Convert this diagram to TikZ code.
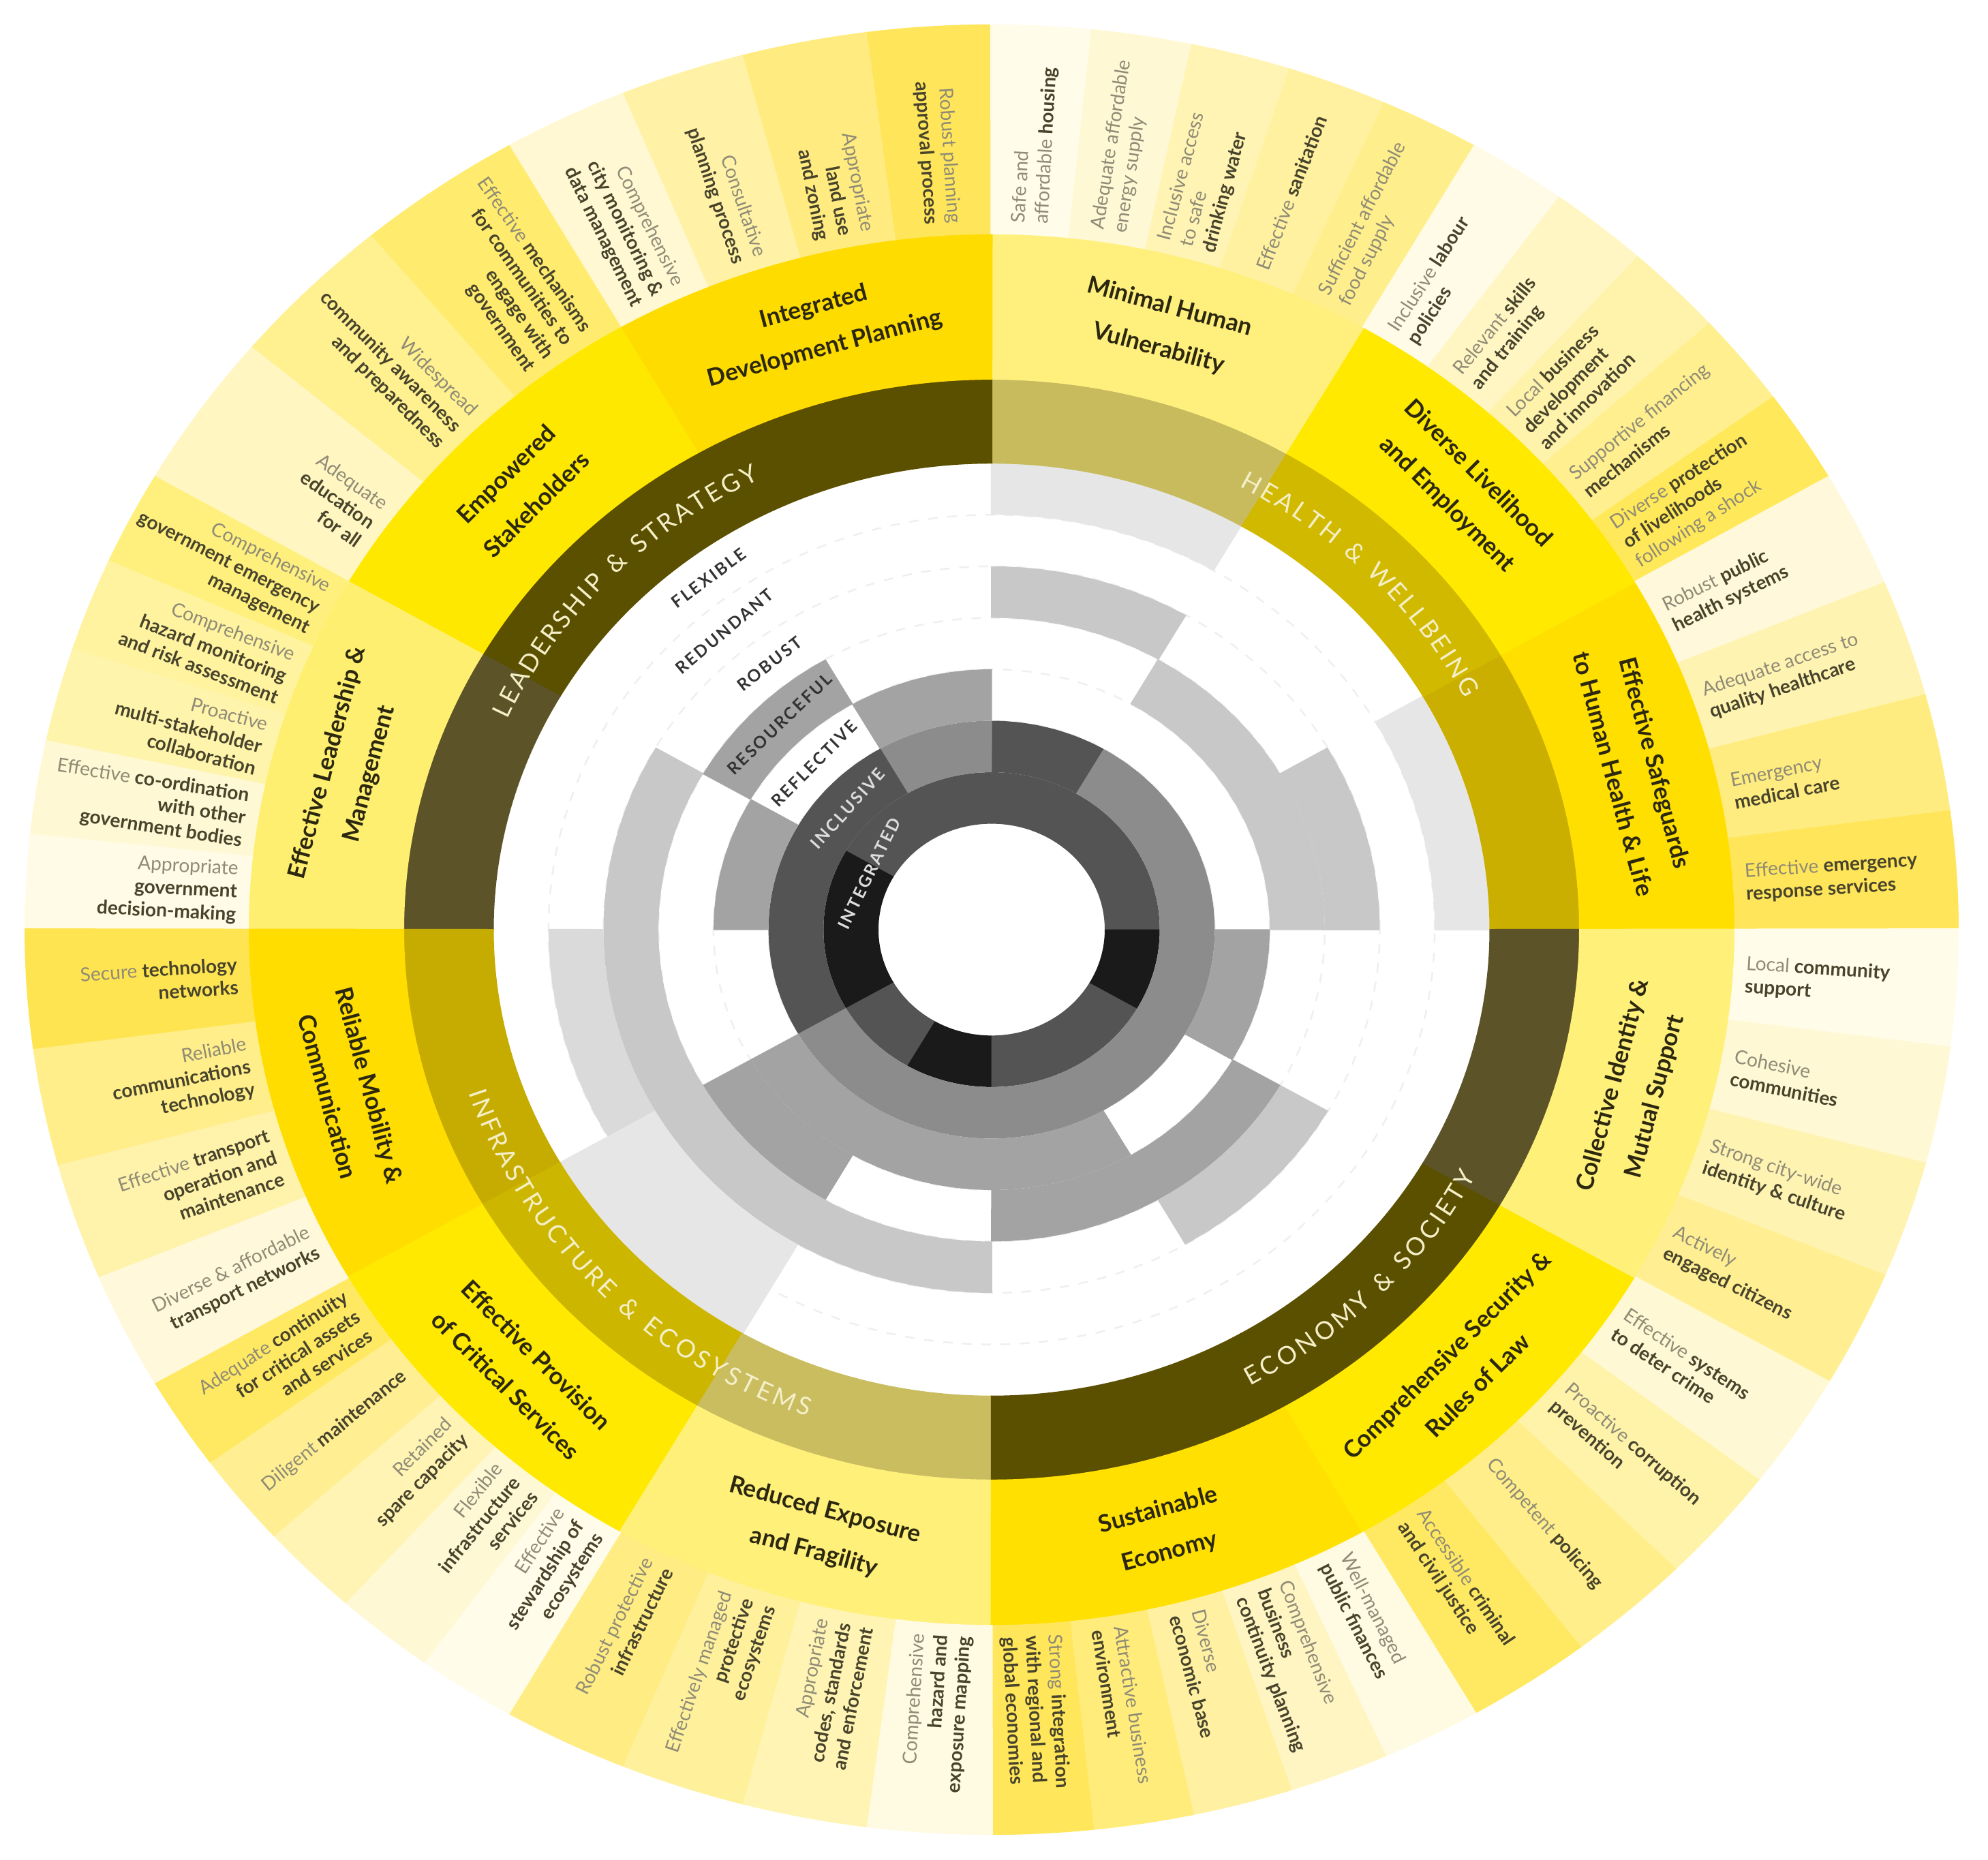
\documentclass[tikz,border=0pt]{standalone}
\usepackage{fontspec}
\setmainfont{Lato}
\usepackage{xcolor}
\definecolor{cK}{HTML}{1A1A1A}
\definecolor{cD}{HTML}{545454}
\definecolor{cM}{HTML}{8C8C8C}
\definecolor{cG}{HTML}{A3A3A3}
\definecolor{cL}{HTML}{C8C8C8}
\definecolor{cF}{HTML}{DADADA}
\definecolor{cE}{HTML}{E6E6E6}
\definecolor{band0}{HTML}{CAAF00}
\definecolor{band30}{HTML}{D1B900}
\definecolor{band60}{HTML}{C8BB5E}
\definecolor{band90}{HTML}{5B4F00}
\definecolor{band120}{HTML}{5B4F00}
\definecolor{band150}{HTML}{5C5428}
\definecolor{band180}{HTML}{C6AC00}
\definecolor{band210}{HTML}{CDB600}
\definecolor{band240}{HTML}{C9BD60}
\definecolor{band270}{HTML}{5B4F00}
\definecolor{band300}{HTML}{5B4F00}
\definecolor{band330}{HTML}{5C5428}
\definecolor{goal0}{HTML}{FFDF00}
\definecolor{goal30}{HTML}{FFE900}
\definecolor{goal60}{HTML}{FFF07E}
\definecolor{goal90}{HTML}{FFDC00}
\definecolor{goal120}{HTML}{FFE800}
\definecolor{goal150}{HTML}{FFEF70}
\definecolor{goal180}{HTML}{FFDD00}
\definecolor{goal210}{HTML}{FFE900}
\definecolor{goal240}{HTML}{FFF07A}
\definecolor{goal270}{HTML}{FFE000}
\definecolor{goal300}{HTML}{FFE900}
\definecolor{goal330}{HTML}{FFF07A}
\definecolor{txtdark}{HTML}{48442C}
\definecolor{txtgrey}{HTML}{8F8B76}
\definecolor{goaltext}{HTML}{2C2810}
\definecolor{dimtext}{HTML}{F4EFC8}
\definecolor{dashc}{HTML}{EFEFEF}
\definecolor{qlight}{HTML}{DCDCDC}
\definecolor{qdark}{HTML}{333333}

\newcommand\lt[1]{\textcolor{txtgrey}{#1}}
\newcommand\dk[1]{{\bfseries\color{txtdark}#1}}

\tikzset{
  indtxt/.style={font=\fontsize{8}{9.6}\selectfont, inner sep=0pt, text=txtdark},
  goaltxt/.style={font=\fontsize{10}{18}\selectfont\bfseries, align=center, text=goaltext, inner sep=0pt},
  dimtxt/.style={font=\fontsize{10.4}{12}\selectfont, text=dimtext, inner sep=0pt},
  qualtxt/.style={font=\fontsize{7}{8}\selectfont\bfseries\addfontfeatures{LetterSpace=12}, inner sep=0pt},
  dashring/.style={draw=dashc, line width=0.7pt, dash pattern=on 4pt off 4pt},
}

% inner ring row: ring index, 12 colour letters from 0 deg counter-clockwise
\newcommand\ringrow[2]{%
  \pgfmathsetmacro\rin{1.66+(#1-1)*0.807}%
  \pgfmathsetmacro\rout{\rin+0.807}%
  \foreach \c [count=\k from 0] in {#2} {%
    \if\c W\else
      \pgfmathsetmacro\aA{\k*30-0.1}\pgfmathsetmacro\aB{\k*30+30.1}%
      \fill[c\c] (\aA:\rin) arc[start angle=\aA,end angle=\aB,radius=\rin] -- (\aB:\rout) arc[start angle=\aB,end angle=\aA,radius=\rout] -- cycle;
    \fi}}

\newcommand\indfill[6]{%
  \definecolor{tmpc}{HTML}{#4}%
  \pgfmathsetmacro\aA{#2-0.08}\pgfmathsetmacro\aB{#3+0.08}%
  \fill[tmpc] (\aA:10.9) arc[start angle=\aA,end angle=\aB,radius=10.9] -- (\aB:14.19) arc[start angle=\aB,end angle=\aA,radius=14.19] -- cycle;}
\newcommand\indtext[6]{%
  \pgfmathsetmacro\amid{(#2+#3)/2}%
  \if#5L\pgfmathsetmacro\rot{\amid-180}\node[indtxt,anchor=east,align=right,rotate=\rot] (#1) at (\amid:11.08) {#6};%
  \else\pgfmathsetmacro\rot{\amid}\node[indtxt,anchor=west,align=left,rotate=\rot] (#1) at (\amid:11.08) {#6};\fi}

\newcommand\indlist{%
\ind{i1}{90}{97.5}{FFE55A}{L}{\lt{Robust planning}\\\dk{approval process}}%
\ind{i2}{97.5}{105}{FFEB80}{L}{\lt{Appropriate}\\\dk{land use}\\\dk{and zoning}}%
\ind{i3}{105}{112.5}{FFF2A6}{L}{\lt{Consultative}\\\dk{planning process}}%
\ind{i4}{112.5}{120}{FFF8D2}{L}{\lt{Comprehensive}\\\dk{city monitoring \&}\\\dk{data management}}%
\ind{i5}{120}{130}{FFEC6E}{L}{\lt{Effective} \dk{mechanisms}\\\dk{for communities to}\\\dk{engage with}\\\dk{government}}%
\ind{i6}{130}{140}{FFF090}{L}{\lt{Widespread}\\\dk{community awareness}\\\dk{and preparedness}}%
\ind{i7}{140}{150}{FFF6C2}{L}{\lt{Adequate}\\\dk{education}\\\dk{for all}}%
\ind{i8}{150}{156}{FFF07E}{L}{\lt{Comprehensive}\\\dk{government emergency}\\\dk{management}}%
\ind{i9}{156}{162}{FFF3A0}{L}{\lt{Comprehensive}\\\dk{hazard monitoring}\\\dk{and risk assessment}}%
\ind{i10}{162}{168}{FFF4AC}{L}{\lt{Proactive}\\\dk{multi-stakeholder}\\\dk{collaboration}}%
\ind{i11}{168}{174}{FFF8D4}{L}{\lt{Effective} \dk{co-ordination}\\\dk{with other}\\\dk{government bodies}}%
\ind{i12}{174}{180}{FFFBE6}{L}{\lt{Appropriate}\\\dk{government}\\\dk{decision-making}}%
\ind{i13}{84}{90}{FFFCEA}{R}{\lt{Safe and}\\\lt{affordable} \dk{housing}}%
\ind{i14}{78}{84}{FFF8D4}{R}{\lt{Adequate affordable}\\\lt{energy supply}}%
\ind{i15}{72}{78}{FFF4B4}{R}{\lt{Inclusive access}\\\lt{to safe}\\\dk{drinking water}}%
\ind{i16}{66}{72}{FFF1A0}{R}{\lt{Effective} \dk{sanitation}}%
\ind{i17}{60}{66}{FFEF8C}{R}{\lt{Sufficient affordable}\\\lt{food supply}}%
\ind{i18}{54}{60}{FFFBE6}{R}{\lt{Inclusive} \dk{labour}\\\dk{policies}}%
\ind{i19}{48}{54}{FFF6C4}{R}{\lt{Relevant} \dk{skills}\\\dk{and training}}%
\ind{i20}{42}{48}{FFF3AC}{R}{\lt{Local} \dk{business}\\\dk{development}\\\dk{and innovation}}%
\ind{i21}{36}{42}{FFEF8E}{R}{\lt{Supportive financing}\\\dk{mechanisms}}%
\ind{i22}{30}{36}{FFE95A}{R}{\lt{Diverse} \dk{protection}\\\dk{of livelihoods}\\\lt{following a shock}}%
\ind{i23}{22.5}{30}{FFF8DA}{R}{\lt{Robust} \dk{public}\\\dk{health systems}}%
\ind{i24}{15}{22.5}{FFF3B2}{R}{\lt{Adequate access to}\\\dk{quality healthcare}}%
\ind{i25}{7.5}{15}{FFEC80}{R}{\lt{Emergency}\\\dk{medical care}}%
\ind{i26}{0}{7.5}{FFE55A}{R}{\lt{Effective} \dk{emergency}\\\dk{response services}}%
\ind{i27}{352.5}{360}{FFFCEA}{R}{\lt{Local} \dk{community}\\\dk{support}}%
\ind{i28}{345}{352.5}{FFF8D4}{R}{\lt{Cohesive}\\\dk{communities}}%
\ind{i29}{337.5}{345}{FFF3B2}{R}{\lt{Strong city-wide}\\\dk{identity \& culture}}%
\ind{i30}{330}{337.5}{FFEF92}{R}{\lt{Actively}\\\dk{engaged citizens}}%
\ind{i31}{322.5}{330}{FFF8D4}{R}{\lt{Effective} \dk{systems}\\\dk{to deter crime}}%
\ind{i32}{315}{322.5}{FFF3AA}{R}{\lt{Proactive} \dk{corruption}\\\dk{prevention}}%
\ind{i33}{307.5}{315}{FFEE8A}{R}{\lt{Competent} \dk{policing}}%
\ind{i34}{300}{307.5}{FFE962}{R}{\lt{Accessible} \dk{criminal}\\\dk{and civil justice}}%
\ind{i35}{294}{300}{FFFAE2}{R}{\lt{Well-managed}\\\dk{public finances}}%
\ind{i36}{288}{294}{FFF5C2}{R}{\lt{Comprehensive}\\\dk{business}\\\dk{continuity planning}}%
\ind{i37}{282}{288}{FFF0A2}{R}{\lt{Diverse}\\\dk{economic base}}%
\ind{i38}{276}{282}{FFEC7A}{R}{\lt{Attractive business}\\\dk{environment}}%
\ind{i39}{270}{276}{FFE65A}{R}{\lt{Strong} \dk{integration}\\\dk{with regional and}\\\dk{global economies}}%
\ind{i40}{262.5}{270}{FFFAE2}{L}{\lt{Comprehensive}\\\dk{hazard and}\\\dk{exposure mapping}}%
\ind{i41}{255}{262.5}{FFF4B4}{L}{\lt{Appropriate}\\\dk{codes, standards}\\\dk{and enforcement}}%
\ind{i42}{247.5}{255}{FFF09C}{L}{\lt{Effectively managed}\\\dk{protective}\\\dk{ecosystems}}%
\ind{i43}{240}{247.5}{FFEC82}{L}{\lt{Robust protective}\\\dk{infrastructure}}%
\ind{i44}{234}{240}{FFFCEA}{L}{\lt{Effective}\\\dk{stewardship of}\\\dk{ecosystems}}%
\ind{i45}{228}{234}{FFF8D4}{L}{\lt{Flexible}\\\dk{infrastructure}\\\dk{services}}%
\ind{i46}{222}{228}{FFF4B4}{L}{\lt{Retained}\\\dk{spare capacity}}%
\ind{i47}{216}{222}{FFEF92}{L}{\lt{Diligent} \dk{maintenance}}%
\ind{i48}{210}{216}{FFE962}{L}{\lt{Adequate} \dk{continuity}\\\dk{for critical assets}\\\dk{and services}}%
\ind{i49}{202.5}{210}{FFF8DA}{L}{\lt{Diverse \& affordable}\\\dk{transport networks}}%
\ind{i50}{195}{202.5}{FFF2AA}{L}{\lt{Effective} \dk{transport}\\\dk{operation and}\\\dk{maintenance}}%
\ind{i51}{187.5}{195}{FFEE8A}{L}{\lt{Reliable}\\\dk{communications}\\\dk{technology}}%
\ind{i52}{180}{187.5}{FFE452}{L}{\lt{Secure} \dk{technology}\\\dk{networks}}%
}

% letters placed along an arc: name, centre angle, direction, radius, rotation offset, list char/width
\newcommand\arclabel[6]{%
  \gdef\totw{0}%
  \foreach \ch/\w in {#6} {\pgfmathsetmacro\tmpw{\totw+\w+0.15}\xdef\totw{\tmpw}}%
  \pgfmathsetmacro\astart{#2-(#3)*\totw*2.62/2}%
  \gdef\cum{0}%
  \foreach \ch/\w [count=\i] in {#6} {%
    \pgfmathsetmacro\midw{\cum+(\w+0.15)/2}%
    \pgfmathsetmacro\newcum{\cum+\w+0.15}%
    \xdef\cum{\newcum}%
    \pgfmathsetmacro\ang{\astart+(#3)*\midw*2.62}%
    \pgfmathsetmacro\rot{\ang+(#5)}%
    \node[dimtxt, rotate=\rot, anchor=base] (#1-\i) at (\ang:#4) {\ch};
  }}

\begin{document}
\begin{tikzpicture}[x=1cm,y=1cm]
\useasboundingbox (0,0) rectangle (29.17,27.29);
\fill[white] (0,0) rectangle (29.17,27.29);
\begin{scope}[shift={(14.55,13.65)}, yscale=0.936]
  % faint dashed ring guides
  \foreach \r in {2.467,3.274,4.081,4.888,5.695,6.502}
    \draw[dashring] (0,0) circle[radius=\r];
  % inner quality rings
  \ringrow{1}{D,D,D,D,D,K,K,D,K,D,D,K}
  \ringrow{2}{M,M,D,M,D,D,D,M,M,M,M,M}
  \ringrow{3}{W,W,W,G,W,G,W,G,G,G,W,G}
  \ringrow{4}{L,L,W,W,G,W,W,G,W,G,G,W}
  \ringrow{5}{L,W,L,W,W,L,L,L,L,W,L,W}
  \ringrow{6}{W,W,W,W,W,W,F,E,W,W,W,W}
  \ringrow{7}{E,W,E,W,W,W,W,E,W,W,W,W}
  % dimension band and goal band
  \foreach \a in {0,30,...,330} {
    \pgfmathsetmacro\aA{\a-0.08}\pgfmathsetmacro\aB{\a+30.08}
    \fill[band\a] (\aA:7.305) arc[start angle=\aA,end angle=\aB,radius=7.305] -- (\aB:8.63) arc[start angle=\aB,end angle=\aA,radius=8.63] -- cycle;
    \fill[goal\a] (\aA:8.62) arc[start angle=\aA,end angle=\aB,radius=8.62] -- (\aB:10.92) arc[start angle=\aB,end angle=\aA,radius=10.92] -- cycle;
  }
  % indicator sectors, then their texts
  \let\ind\indfill \indlist
  \let\ind\indtext \indlist
  % goal labels
  \node[goaltxt, rotate=15] (g1) at (105:9.765) {Integrated\\Development Planning};
  \node[goaltxt, rotate=45] (g2) at (135:9.765) {Empowered\\Stakeholders};
  \node[goaltxt, rotate=75] (g3) at (165:9.765) {Effective Leadership \&\\Management};
  \node[goaltxt, rotate=-75] (g4) at (195:9.765) {Reliable Mobility \&\\Communication};
  \node[goaltxt, rotate=-45] (g5) at (225:9.765) {Effective Provision\\of Critical Services};
  \node[goaltxt, rotate=-15] (g6) at (255:9.765) {Reduced Exposure\\and Fragility};
  \node[goaltxt, rotate=15] (g7) at (285:9.765) {Sustainable\\Economy};
  \node[goaltxt, rotate=45] (g8) at (315:9.765) {Comprehensive Security \&\\Rules of Law};
  \node[goaltxt, rotate=75] (g9) at (345:9.765) {Collective Identity \&\\Mutual Support};
  \node[goaltxt, rotate=-75] (g10) at (15:9.765) {Effective Safeguards\\to Human Health \& Life};
  \node[goaltxt, rotate=-45] (g11) at (45:9.765) {Diverse Livelihood\\and Employment};
  \node[goaltxt, rotate=-15] (g12) at (75:9.765) {Minimal Human\\Vulnerability};
  % dimension labels along the band
  \arclabel{dL}{135.4}{-1}{7.835}{-90}{L/.52,E/.56,A/.68,D/.73,E/.56,R/.62,S/.53,H/.75,I/.28,P/.6,{}/.3,\&/.7,{}/.3,S/.53,T/.56,R/.62,A/.68,T/.56,E/.56,G/.73,Y/.62}
  \arclabel{dH}{45}{-1}{7.835}{-90}{H/.75,E/.56,A/.68,L/.52,T/.56,H/.75,{}/.3,\&/.7,{}/.3,W/1.0,E/.56,L/.52,L/.52,B/.64,E/.56,I/.28,N/.76,G/.73}
  \arclabel{dE}{314.7}{1}{8.095}{90}{E/.56,C/.67,O/.79,N/.76,O/.79,M/.88,Y/.62,{}/.3,\&/.7,{}/.3,S/.53,O/.79,C/.67,I/.28,E/.56,T/.56,Y/.62}
  \arclabel{dI}{224.5}{1}{8.095}{90}{I/.28,N/.76,F/.53,R/.62,A/.68,S/.53,T/.56,R/.62,U/.73,C/.67,T/.56,U/.73,R/.62,E/.56,{}/.3,\&/.7,{}/.3,E/.56,C/.67,O/.79,S/.53,Y/.62,S/.53,T/.56,E/.56,M/.88,S/.53}
  % quality labels
  \node[qualtxt, text=qlight, rotate=64] (qIntegrated) at (154:2.0) {INTEGRATED};
  \node[qualtxt, text=qlight, rotate=48] (qInclusive) at (138:2.84) {INCLUSIVE};
  \node[qualtxt, text=qdark, rotate=45] (qReflective) at (135:3.68) {REFLECTIVE};
  \node[qualtxt, text=qdark, rotate=44] (qResourceful) at (134:4.48) {RESOURCEFUL};
  \node[qualtxt, text=qdark, rotate=38] (qRobust) at (128:5.29) {ROBUST};
  \node[qualtxt, text=qdark, rotate=40] (qRedundant) at (130:6.10) {REDUNDANT};
  \node[qualtxt, text=qdark, rotate=37] (qFlexible) at (127:6.90) {FLEXIBLE};
\end{scope}
\end{tikzpicture}
\end{document}
